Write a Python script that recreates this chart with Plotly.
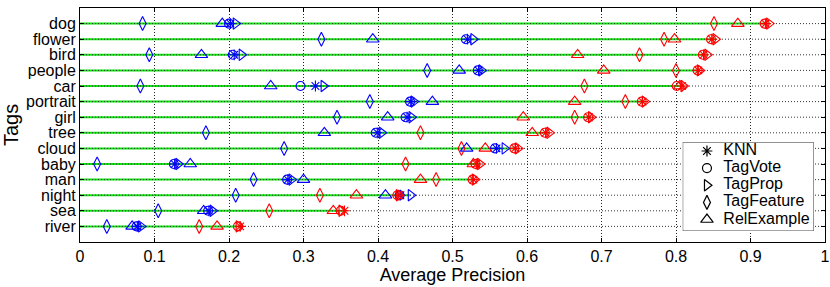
import plotly.graph_objects as go

tags = ["dog", "flower", "bird", "people", "car", "portrait", "girl",
        "tree", "cloud", "baby", "man", "night", "sea", "river"]
methods = ["KNN", "TagVote", "TagProp", "TagFeature", "RelExample"]
x_ticks = [0, 0.1, 0.2, 0.3, 0.4, 0.5, 0.6, 0.7, 0.8, 0.9, 1]
x_tick_labels = ["0", "0.1", "0.2", "0.3", "0.4", "0.5", "0.6", "0.7", "0.8", "0.9", "1"]

# blue series
blue_knn = [0.202, 0.520, 0.207, 0.535, 0.316, 0.444, 0.439, 0.399, 0.559, 0.127, 0.279, 0.430, 0.173, 0.077]
blue_tagvote = [0.200, 0.518, 0.205, 0.534, 0.296, 0.443, 0.437, 0.397, 0.557, 0.126, 0.278, 0.429, 0.172, 0.076]
blue_tagprop = [0.209, 0.528, 0.217, 0.539, 0.327, 0.448, 0.445, 0.405, 0.570, 0.132, 0.284, 0.444, 0.178, 0.082]
blue_tagfeature = [0.084, 0.324, 0.093, 0.466, 0.081, 0.389, 0.345, 0.169, 0.274, 0.023, 0.233, 0.209, 0.105, 0.036]
blue_relexample = [0.191, 0.393, 0.163, 0.509, 0.256, 0.473, 0.413, 0.328, 0.519, 0.148, 0.300, 0.410, 0.166, 0.070]

# red series
red_knn = [0.920, 0.848, 0.837, 0.830, 0.808, 0.755, 0.683, 0.625, 0.584, 0.532, 0.528, 0.428, 0.355, 0.215]
red_tagvote = [0.919, 0.847, 0.836, 0.829, 0.801, 0.754, 0.682, 0.624, 0.583, 0.531, 0.527, 0.426, 0.350, 0.212]
red_tagprop = [0.925, 0.853, 0.842, 0.832, 0.810, 0.758, 0.686, 0.630, 0.588, 0.537, 0.530, 0.428, 0.351, 0.213]
red_tagfeature = [0.851, 0.784, 0.751, 0.800, 0.677, 0.732, 0.664, 0.457, 0.512, 0.437, 0.478, 0.322, 0.254, 0.160]
red_relexample = [0.883, 0.798, 0.668, 0.703, 0.805, 0.664, 0.595, 0.607, 0.544, 0.528, 0.457, 0.371, 0.340, 0.184]

blue = [blue_knn, blue_tagvote, blue_tagprop, blue_tagfeature, blue_relexample]
red = [red_knn, red_tagvote, red_tagprop, red_tagfeature, red_relexample]

symbols = {"KNN": "asterisk-open", "TagVote": "circle-open", "TagProp": "triangle-right-open",
           "TagFeature": "diamond-tall-open", "RelExample": "triangle-up-open"}
sizes = {"KNN": 9, "TagVote": 9, "TagProp": 10, "TagFeature": 10, "RelExample": 11}

BLUE = "#0000ff"
RED = "#ff0000"
GREEN = "rgb(20,225,20)"
FONT = "Liberation Sans, Arial, sans-serif"

fig = go.Figure()

# green lines from 0 to row maximum
row_max = [max(s[i] for s in blue + red) for i in range(len(tags))]
gx, gy = [], []
for t, m in zip(tags, row_max):
    gx += [0, m, None]
    gy += [t, t, None]
fig.add_trace(go.Scatter(x=gx, y=gy, mode="lines", line=dict(color=GREEN, width=2),
                         showlegend=False, hoverinfo="skip"))
# dotted row grid drawn over the green
dx, dy = [], []
for t in tags:
    dx += [0, 1, None]
    dy += [t, t, None]
fig.add_trace(go.Scatter(x=dx, y=dy, mode="lines",
                         line=dict(color="#333333", width=1, dash="1px,2px"),
                         showlegend=False, hoverinfo="skip"))

draw_order = ["TagFeature", "RelExample", "TagVote", "KNN", "TagProp"]
for color, group in ((BLUE, blue), (RED, red)):
    for name in draw_order:
        vals = group[methods.index(name)]
        fig.add_trace(go.Scatter(
            x=vals, y=tags, mode="markers", showlegend=False,
            marker=dict(symbol=symbols[name], size=sizes[name], color=color,
                        line=dict(color=color, width=1.1)),
            name=name))

# legend box drawn on its own small axes
n = len(methods)
box_h = 5.19
fig.add_trace(go.Scatter(x=[0, 1, 1, 0, 0], y=[0, 0, box_h, box_h, 0], mode="lines",
                         fill="toself", fillcolor="white", line=dict(color="#444444", width=1),
                         xaxis="x2", yaxis="y2", showlegend=False, hoverinfo="skip"))
leg_y = [0.52 + i for i in range(n)]
for i, name in enumerate(methods):
    fig.add_trace(go.Scatter(
        x=[0.185], y=[leg_y[i]], mode="markers", xaxis="x2", yaxis="y2", showlegend=False,
        marker=dict(symbol=symbols[name], size=sizes[name], color="black",
                    line=dict(color="black", width=1.2)), hoverinfo="skip"))
fig.add_trace(go.Scatter(
    x=[0.31] * n, y=leg_y, mode="text", text=methods, textposition="middle right",
    textfont=dict(family=FONT, size=16, color="black"),
    xaxis="x2", yaxis="y2", showlegend=False, hoverinfo="skip"))

fig.update_layout(
    width=830, height=287,
    margin=dict(l=80, r=5, t=8, b=45, autoexpand=False),
    paper_bgcolor="white", plot_bgcolor="white",
    font=dict(family=FONT, size=16, color="black"),
    showlegend=False,
    xaxis=dict(range=[0, 1], tickvals=x_ticks, ticktext=x_tick_labels,
               showgrid=True, gridcolor="#222222", griddash="1px,2px", gridwidth=1,
               showline=True, linecolor="black", linewidth=1, mirror="allticks",
               ticks="inside", ticklen=4, tickcolor="black", zeroline=False,
               automargin=False,
               title=dict(text="Average Precision", font=dict(size=18), standoff=2),
               tickfont=dict(size=16)),
    yaxis=dict(type="category", categoryorder="array", categoryarray=tags[::-1],
               tickmode="array", tickvals=tags, ticktext=tags,
               range=[-1, len(tags)], showgrid=False,
               showline=True, linecolor="black", linewidth=1, mirror="allticks",
               ticks="inside", ticklen=4, tickcolor="black", zeroline=False,
               automargin=False,
               title=dict(text="Tags", font=dict(size=20), standoff=2),
               tickfont=dict(size=16)),
    xaxis2=dict(domain=[0.809, 0.985], range=[0, 1], anchor="y2", visible=False,
                fixedrange=True),
    yaxis2=dict(domain=[0.047, 0.427], range=[box_h, 0], anchor="x2", visible=False,
                fixedrange=True),
)

fig.write_html("out.html", config={"displayModeBar": False},
               post_script="document.body.style.margin='0';document.body.style.overflow='hidden';")
